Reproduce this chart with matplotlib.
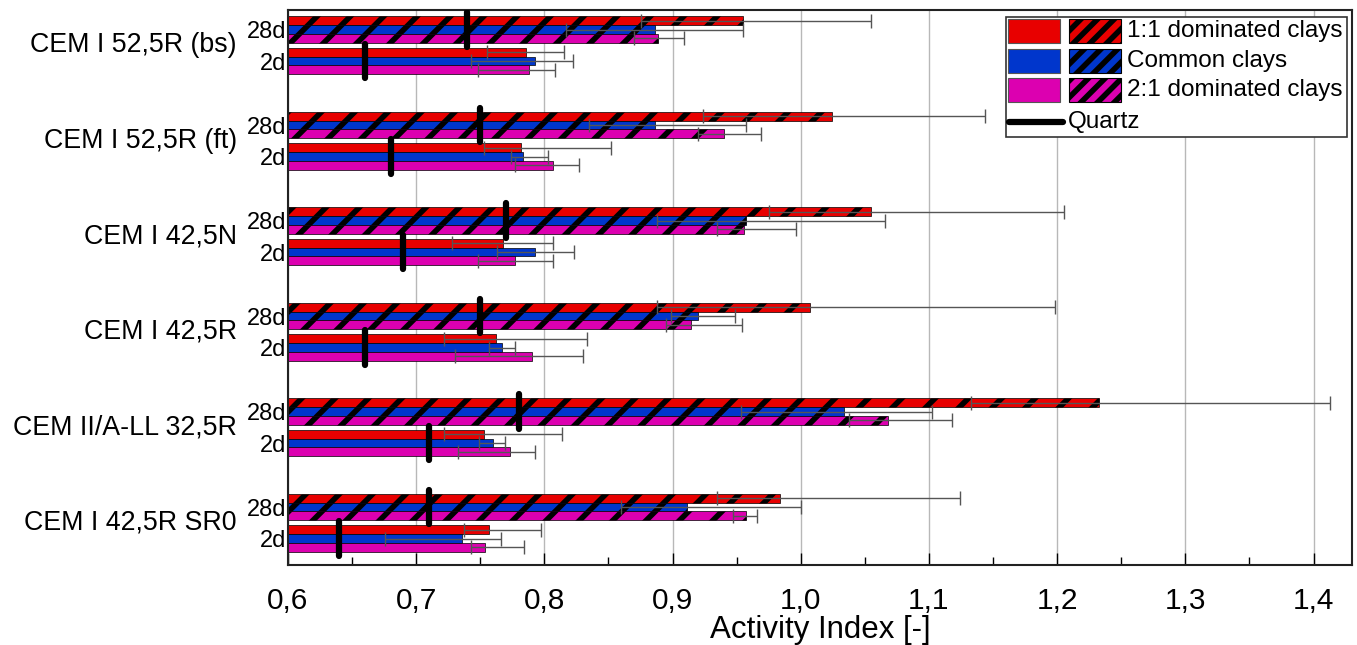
import numpy as np
import matplotlib
matplotlib.use("Agg")
import matplotlib.pyplot as plt
from matplotlib.patches import Rectangle
from matplotlib.lines import Line2D
from matplotlib.ticker import FuncFormatter, MultipleLocator

plt.rcParams['font.family'] = ['Liberation Sans', 'DejaVu Sans']
plt.rcParams['hatch.linewidth'] = 4.0
plt.rcParams['hatch.color'] = 'black'

# cement types, top to bottom
groups = ["CEM I 52,5R (bs)", "CEM I 52,5R (ft)", "CEM I 42,5N",
          "CEM I 42,5R", "CEM II/A-LL 32,5R", "CEM I 42,5R SR0"]
series = ["1:1 dominated clays", "Common clays", "2:1 dominated clays"]
colors = ["#e80000", "#0036cc", "#dc00b0"]

# 28 day activity index (mean, lower end, upper end of error bar)
red28 = [0.955, 1.024, 1.055, 1.007, 1.233, 0.984]
red28_lo = [0.875, 0.924, 0.975, 0.888, 1.133, 0.935]
red28_hi = [1.055, 1.144, 1.205, 1.198, 1.413, 1.124]
blue28 = [0.886, 0.886, 0.957, 0.920, 1.034, 0.911]
blue28_lo = [0.817, 0.835, 0.888, 0.899, 0.953, 0.860]
blue28_hi = [0.955, 0.957, 1.066, 0.949, 1.102, 1.000]
mag28 = [0.889, 0.940, 0.956, 0.914, 1.068, 0.957]
mag28_lo = [0.870, 0.920, 0.935, 0.895, 1.038, 0.947]
mag28_hi = [0.909, 0.969, 0.996, 0.954, 1.118, 0.966]

# 2 day activity index
red2 = [0.786, 0.782, 0.768, 0.762, 0.753, 0.757]
red2_lo = [0.755, 0.753, 0.728, 0.722, 0.722, 0.737]
red2_hi = [0.815, 0.852, 0.807, 0.833, 0.814, 0.797]
blue2 = [0.793, 0.783, 0.793, 0.767, 0.760, 0.736]
blue2_lo = [0.743, 0.774, 0.763, 0.757, 0.749, 0.676]
blue2_hi = [0.822, 0.803, 0.823, 0.777, 0.769, 0.766]
mag2 = [0.788, 0.807, 0.777, 0.790, 0.773, 0.754]
mag2_lo = [0.748, 0.777, 0.748, 0.730, 0.733, 0.743]
mag2_hi = [0.808, 0.827, 0.807, 0.830, 0.793, 0.784]

# quartz reference
quartz28 = [0.740, 0.750, 0.770, 0.750, 0.780, 0.710]
quartz2 = [0.660, 0.680, 0.690, 0.660, 0.710, 0.640]

W, H = 1357, 645
fig = plt.figure(figsize=(W / 100, H / 100), dpi=100)
ax = fig.add_axes([288 / W, 80 / H, 1064 / W, 555 / H])

y = np.arange(len(groups))
bh = 0.092
off = 0.165

sets28 = [(red28, red28_lo, red28_hi), (blue28, blue28_lo, blue28_hi), (mag28, mag28_lo, mag28_hi)]
sets2 = [(red2, red2_lo, red2_hi), (blue2, blue2_lo, blue2_hi), (mag2, mag2_lo, mag2_hi)]

for k in range(3):
    for (vals, lo, hi), yc, hatch in [(sets28[k], y - off, '/'), (sets2[k], y + off, None)]:
        vals = np.array(vals)
        yy = yc + (k - 1) * bh
        ax.barh(yy, vals, height=bh, color=colors[k], edgecolor='black',
                linewidth=0.5, hatch=hatch, zorder=2)
        err = [vals - np.array(lo), np.array(hi) - vals]
        ax.errorbar(vals, yy, xerr=err, fmt='none', ecolor='#555555',
                    elinewidth=1, capsize=5, capthick=1, zorder=3)

# quartz markers
ax.vlines(quartz28, y - off - 1.95 * bh, y - off + 1.95 * bh, colors='black',
          linewidth=4.5, zorder=4, capstyle='round')
ax.vlines(quartz2, y + off - 1.95 * bh, y + off + 1.95 * bh, colors='black',
          linewidth=4.5, zorder=4, capstyle='round')

ax.set_xlim(0.6, 1.43)
ax.set_ylim(5.442, -0.37)
ax.xaxis.set_major_locator(MultipleLocator(0.1))
ax.xaxis.set_minor_locator(MultipleLocator(0.05))
ax.xaxis.set_major_formatter(FuncFormatter(lambda v, p: f"{v:.1f}".replace('.', ',')))
ax.tick_params(axis='x', which='major', direction='in', length=9, width=1,
               labelsize=21.5, pad=16)
ax.tick_params(axis='x', which='minor', direction='in', length=6, width=1)
ax.grid(axis='x', which='major', color='#b8b8b8', linewidth=1, zorder=0)
ax.set_axisbelow(True)

ticks = np.concatenate([y - off, y + off])
labels = ["28d"] * len(y) + ["2d"] * len(y)
ax.set_yticks(ticks)
ax.set_yticklabels(labels)
ax.tick_params(axis='y', length=0, labelsize=17, pad=1)

for yi, name in zip(y, groups):
    ax.text(-0.048, yi, name, transform=ax.get_yaxis_transform(), ha='right',
            va='center', fontsize=19.3)

ax.set_xlabel("Activity Index [-]", fontsize=22.5, labelpad=0)

for s in ax.spines.values():
    s.set_linewidth(1.5)
    s.set_color('#222222')

# legend, drawn in pixel positions of the figure
def fx(px):
    return px / W


def fy(py):
    return 1 - py / H


fig.add_artist(Rectangle((fx(1006), fy(137)), fx(1347) - fx(1006), fy(17) - fy(137),
                         transform=fig.transFigure, facecolor='white',
                         edgecolor='#333333', linewidth=1.2, zorder=10))
for k in range(3):
    top = 19 + k * 29.5
    fig.add_artist(Rectangle((fx(1008), fy(top + 24)), fx(52), 24 / H,
                             transform=fig.transFigure, facecolor=colors[k],
                             edgecolor='#555555', linewidth=0.8, zorder=11))
    fig.add_artist(Rectangle((fx(1069), fy(top + 24)), fx(52), 24 / H,
                             transform=fig.transFigure, facecolor=colors[k],
                             edgecolor='black', linewidth=0.8, hatch='//', zorder=11))
    fig.text(fx(1127), fy(top + 12), series[k], ha='left', va='center',
             fontsize=17.5, zorder=12)
fig.add_artist(Line2D([fx(1009), fx(1063)], [fy(122), fy(122)], color='black',
                      linewidth=4.5, solid_capstyle='round', transform=fig.transFigure,
                      zorder=11))
fig.text(fx(1068), fy(122), "Quartz", ha='left', va='center', fontsize=17.5, zorder=12)

fig.savefig("out.png", dpi=100)
